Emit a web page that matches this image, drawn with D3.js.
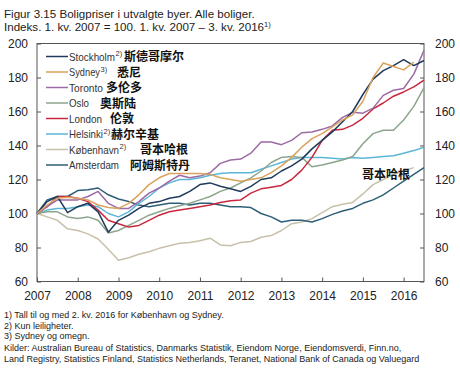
<!DOCTYPE html>
<html><head><meta charset="utf-8">
<script src="https://cdn.jsdelivr.net/npm/d3@7"></script>
<style>
body{margin:0;background:#fff;}
svg text{font-family:"Liberation Sans",Arial,sans-serif;}
.cjk{font-family:"Noto Sans CJK SC",sans-serif;font-weight:bold;}
</style></head>
<body><svg id="c" width="460" height="369"></svg>
<script>
const years = [2007,2008,2009,2010,2011,2012,2013,2014,2015,2016];
const yTicks = [60,80,100,120,140,160,180,200];
const names = ["Stockholm","Sydney","Toronto","Oslo","London","Helsinki","København","Amsterdam"];
const sups = ["2)","3)","","","","2)","2)",""];
const cnNames = ["斯德哥摩尔","悉尼","多伦多","奥斯陆","伦敦","赫尔辛基","哥本哈根","阿姆斯特丹"];
const colors = ["#1f3a5a","#d9a35c","#9c6aa4","#8da58c","#c8283e","#5cb6d8","#c9c0aa","#2f5f78"];

const stockholm = [100,107,110,100.5, 104,106,101,89, 96,99,103,106, 107,109,110,113, 117,118,116,114.5, 113,116,120,121, 125,128,132,138, 143,148,154,160, 170,179,184,187, 190.5,187,190];
const sydney = [100,105,109,109.5, 109,108,105,103.5, 103,106,111,117, 121,123.5,123.5,123.5, 123.5,123,121,120, 119,120,121,124, 128,133,139,144, 147,151,155,158, 166,180,188.5,186.5, 184.5,189];
const toronto = [100,104,108,108, 108,110,113,106, 103,103,107,112, 115,119,122.5,121, 122,124,129.5,131.5, 132,135.5,142,142, 140.5,143,147.5,148, 149.5,151.5,156.5,159.5, 159,162,169.5,172.5, 173.5,182,196];
const oslo = [100,101,101,98, 97,98,96,88.5, 90,93,96,99, 101,103,104.5,106, 108,110,113,115, 118,121,125,130, 133,133.5,133,127.5, 128.5,130,131.5,133.5, 141,147,149,149, 155,163,174];
const london = [100,104,110,110, 109,107,102,96, 94,92,93,96, 99,101,102,103, 104,105,106.5,107.5, 108,112,114.5,115.5, 116.5,120,125.5,133, 143,149,149.5,152, 156,161.5,165,169, 171.5,174.5,178.5];
const helsinki = [100,102,103,103, 104,105,104,100, 98,101,106,110, 115,118,120,120, 121,122.5,123.5,124, 124,124,126,128, 130,132,133,133, 133,132.5,132,133, 132.5,133,133.5,134, 135.5,137,139];
const kobenhavn = [100,98,96,91, 90,88,85,79, 72.5,74,76,77.5, 79.5,81,82.5,83, 84,85.5,81.5,81, 83,83.5,86,87, 90,94,95,97, 100.5,104,105.5,106.5, 111.5,117,120,123, 125,127];
const amsterdam = [100,108,110,110, 113.5,114,115,111, 108.5,107,105,104, 105,106,106,105, 106,106,105,104, 104,103.5,100,98, 95,96,96,95, 97,99.5,101.5,103, 106,108,111,115, 119,123,127];
const seriesList = [stockholm,sydney,toronto,oslo,london,helsinki,kobenhavn,amsterdam];

const footnotes = [
 "1) Tall til og med 2. kv. 2016 for København og Sydney.",
 "2) Kun leiligheter.",
 "3) Sydney og omegn.",
 "Kilder: Australian Bureau of Statistics, Danmarks Statistik, Eiendom Norge, Eiendomsverdi, Finn.no,",
 "Land Registry, Statistics Finland, Statistics Netherlands, Teranet, National Bank of Canada og Valuegard"
];

const svg = d3.select("#c");
const L=37, R=424, T=43.5, B=281.5;
const x = d3.scaleLinear().domain([2007, 2016.5]).range([L, R]);
const y = d3.scaleLinear().domain([60,200]).range([B, T]);
const qx = i => x(2007 + i/4);

// title
svg.append("text").attr("x",4).attr("y",17.5).attr("font-size",11.6).attr("fill","#222")
  .text("Figur 3.15 Boligpriser i utvalgte byer. Alle boliger.");
const t2 = svg.append("text").attr("x",4).attr("y",31).attr("font-size",11.6).attr("fill","#222")
  .text("Indeks. 1. kv. 2007 = 100. 1. kv. 2007 – 3. kv. 2016");
t2.append("tspan").attr("dy",-4).attr("font-size",7.5).text("1)");

// frame
svg.append("rect").attr("x",L).attr("y",T).attr("width",R-L).attr("height",B-T)
  .attr("fill","none").attr("stroke","#555").attr("stroke-width",1);

const gx = svg.append("g").attr("transform",`translate(0,${B})`)
  .call(d3.axisBottom(x).tickValues(years).tickFormat(d3.format("d")).tickSize(-4).tickPadding(10));
const gl = svg.append("g").attr("transform",`translate(${L},0)`)
  .call(d3.axisLeft(y).tickValues(yTicks).tickSize(-4).tickPadding(9));
const gr = svg.append("g").attr("transform",`translate(${R},0)`)
  .call(d3.axisRight(y).tickValues(yTicks).tickSize(-4).tickPadding(11));
[gx,gl,gr].forEach(g=>{
  g.select(".domain").remove();
  g.selectAll(".tick line").attr("stroke","#555");
  g.selectAll("text").attr("font-size",12).attr("fill","#222").attr("font-family","Liberation Sans, Arial, sans-serif");
});

// lines
const line = d3.line().x((d,i)=>qx(i)).y(d=>y(d));
const order = [6,7,5,3,4,2,0,1];
order.forEach(k=>{
  svg.append("path").datum(seriesList[k]).attr("d",line)
    .attr("fill","none").attr("stroke",colors[k]).attr("stroke-width",1.5).attr("stroke-linejoin","round");
});

// legend
const legY = [56.5,72,87.5,103,118.5,134,149.5,165];
const legW = [46,31,34,20,33,34,50,50];
const cnX = [124,117,106,100,110,111,140,130];
names.forEach((n,k)=>{
  const yy = legY[k];
  svg.append("line").attr("x1",46).attr("x2",68).attr("y1",yy).attr("y2",yy)
    .attr("stroke",colors[k]).attr("stroke-width",1.5);
  const t = svg.append("text").attr("x",69).attr("y",yy+4.2).attr("fill","#333");
  t.append("tspan").attr("font-size",11).attr("textLength",legW[k]).attr("lengthAdjust","spacingAndGlyphs").text(n);
  if (sups[k]) t.append("tspan").attr("font-size",7.5).attr("dx",0.5).attr("dy",-4.6).text(sups[k]);
  svg.append("text").attr("class","cjk").attr("x",cnX[k]).attr("y",yy+4.5).attr("font-size",12).attr("fill","#111").text(cnNames[k]);
});
svg.append("text").attr("class","cjk").attr("x",362).attr("y",178.5).attr("font-size",12).attr("fill","#111").text("哥本哈根");

// footnotes
const fy = [318,328.5,338.5,350.5,362];
footnotes.forEach((f,i)=>{
  svg.append("text").attr("x",4).attr("y",fy[i]).attr("font-size",9).attr("fill","#222").text(f);
});
</script></body></html>
